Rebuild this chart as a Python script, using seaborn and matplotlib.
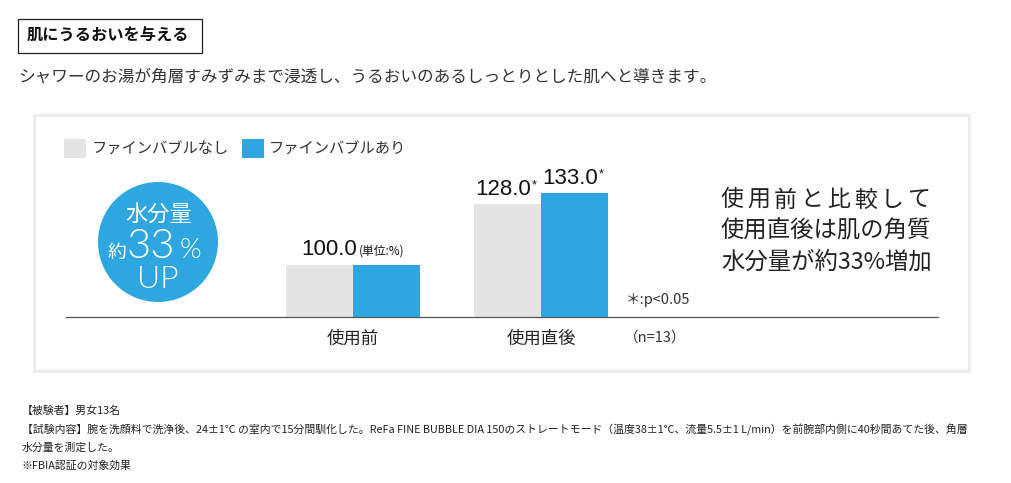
import numpy as np
import pandas as pd
import matplotlib
matplotlib.use('Agg')
import matplotlib.pyplot as plt
import seaborn as sns
from matplotlib.patches import Rectangle, Circle

# ---- data ----
categories = ['使用前', '使用直後']
conditions = ['ファインバブルなし', 'ファインバブルあり']
values_without = [100.0, 128.0]
values_with = [100.0, 133.0]
sig_without = [False, True]
sig_with = [False, True]

GRAY = '#e5e5e5'
BLUE = '#2ea7e0'
TXT = '#333333'

sns.set_theme(style='white')
plt.rcParams['font.family'] = ['Noto Sans CJK JP', 'DejaVu Sans']
NUMFONT = ['Liberation Sans', 'DejaVu Sans']
THIN = ['Lato', 'DejaVu Sans']

df = pd.DataFrame({
    'timing': categories * 2,
    'condition': [conditions[0]] * len(categories) + [conditions[1]] * len(categories),
    'value': values_without + values_with,
})

W, H = 1012, 483
fig = plt.figure(figsize=(W / 100, H / 100), dpi=100)
fig.patch.set_facecolor('white')

bg = fig.add_axes([0, 0, 1, 1], zorder=0)
bg.set_xlim(0, W)
bg.set_ylim(H, 0)
bg.axis('off')

# header
bg.add_patch(Rectangle((18.5, 18.5), 184, 34, fill=False, edgecolor='#222222', lw=0.9))
bg.text(27, 36, '肌にうるおいを与える', fontsize=11.7, fontweight='bold', color='#111111',
        ha='left', va='center')
bg.text(18, 77, 'シャワーのお湯が角層すみずみまで浸透し、うるおいのあるしっとりとした肌へと導きます。',
        fontsize=12, color=TXT, ha='left', va='center')

# chart frame
bg.add_patch(Rectangle((34, 115), 935, 256, facecolor='white', edgecolor='#ececec', lw=2.2))

# badge circle
bg.add_patch(Circle((158, 242), 60, color=BLUE, lw=0))
bg.text(159, 214, '水分量', fontsize=16, color='white', ha='center', va='center')
bg.text(117, 252, '約', fontsize=13.5, color='white', ha='center', va='center')
bg.text(151, 247, '33', fontsize=30, color='white', ha='center', va='center',
        family=THIN, fontweight=300)
bg.text(190, 250, '%', fontsize=20, color='white', ha='center', va='center',
        family=THIN, fontweight=300)
bg.text(158, 280, 'UP', fontsize=23, color='white', ha='center', va='center',
        family=THIN, fontweight=300)

# right side message
line1 = '使用前と比較して'
pitch = (930 - 721 - 23) / (len(line1) - 1)
for i, ch in enumerate(line1):
    bg.text(721 + i * pitch, 200, ch, fontsize=16.5, color='#222222', ha='left', va='center')
bg.text(721, 231, '使用直後は肌の角質', fontsize=16.8, color='#222222', ha='left', va='center')
bg.text(721, 262, '水分量が約33%増加', fontsize=16.8, color='#222222', ha='left', va='center')

# notes in chart
bg.text(626, 300, '＊:p<0.05', fontsize=10.5, color=TXT, ha='left', va='center')
bg.text(624, 338, '（n=13）', fontsize=10.5, color=TXT, ha='left', va='center')

# footnotes
foot = [
    '【被験者】男女13名',
    '【試験内容】腕を洗顔料で洗浄後、24±1℃ の室内で15分間馴化した。ReFa FINE BUBBLE DIA 150のストレートモード（温度38±1℃、流量5.5±1 L/min）を前腕部内側に40秒間あてた後、角層',
    '水分量を測定した。',
    '※FBIA認証の対象効果',
]
for y, t in zip([411, 430, 448, 466], foot):
    bg.text(22, y, t, fontsize=7.8, color='#222222', ha='left', va='center')

# ---- bar chart ----
ax = fig.add_axes([66 / W, 1 - 317 / H, (938 - 66) / W, 167 / H], zorder=1)
ax.patch.set_alpha(0)
sns.barplot(data=df, x='timing', y='value', hue='condition', hue_order=conditions,
            order=categories, palette=[GRAY, BLUE], width=0.713, saturation=1,
            linewidth=0, ax=ax)
ax.set_xlim(-1.527, 3.112)
ax.set_ylim(76, 152.6)
for s in ['top', 'left', 'right']:
    ax.spines[s].set_visible(False)
ax.spines['bottom'].set_color('#555555')
ax.spines['bottom'].set_linewidth(0.9)
ax.set_yticks([])
ax.set_xlabel('')
ax.set_ylabel('')
ax.tick_params(axis='x', length=0, pad=9, labelsize=12.5, labelcolor='#222222')

handles, labels = ax.get_legend_handles_labels()
ax.legend(handles, labels, loc='upper left', bbox_to_anchor=(64 / W, 1 - 139 / H),
          bbox_transform=fig.transFigure, ncol=2, frameon=False, fontsize=11,
          handlelength=1.45, handleheight=1.5, handletextpad=0.35, columnspacing=0.85,
          borderpad=0, borderaxespad=0, labelcolor=TXT)

# value labels
cont_without, cont_with = ax.containers[0], ax.containers[1]
for i in range(len(categories)):
    b0, b1 = cont_without[i], cont_with[i]
    v0, v1 = values_without[i], values_with[i]
    if v0 == v1:
        xc = (b0.get_x() + b1.get_x() + b1.get_width()) / 2
        ax.annotate(f'{v0:.1f}', xy=(xc, v0), xytext=(2.5, 7), textcoords='offset points',
                    ha='right', va='baseline', fontsize=16, family=NUMFONT, color='#111111')
        ax.annotate('(単位:%)', xy=(xc, v0), xytext=(4, 7.5), textcoords='offset points',
                    ha='left', va='baseline', fontsize=8.5, color='#111111')
    else:
        for b, v, sg in [(b0, v0, sig_without[i]), (b1, v1, sig_with[i])]:
            xc = b.get_x() + b.get_width() / 2
            ax.annotate(f'{v:.1f}', xy=(xc, v), xytext=(17, 6), textcoords='offset points',
                        ha='right', va='baseline', fontsize=16, family=NUMFONT, color='#111111')
            if sg:
                ax.annotate('*', xy=(xc, v), xytext=(17.5, 11), textcoords='offset points',
                            ha='left', va='baseline', fontsize=9, family=NUMFONT, color='#111111')

fig.savefig('out.png', dpi=100)
